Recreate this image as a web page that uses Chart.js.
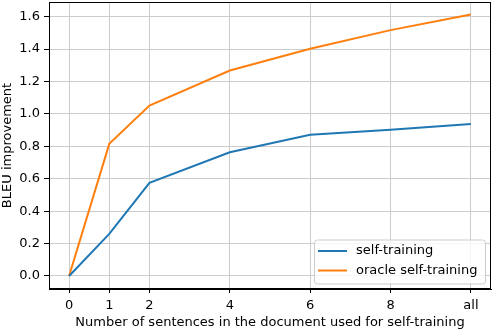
<!DOCTYPE html>
<html>
<head>
<meta charset="utf-8">
<script src="https://cdn.jsdelivr.net/npm/chart.js@4/dist/chart.umd.min.js"></script>
<style>
  html, body { margin: 0; padding: 0; background: #fff; }
  canvas { display: block; }
</style>
</head>
<body>
<canvas id="myChart" width="492" height="330"></canvas>
<script>
// x positions of the measurements ("all" is drawn at position 10)
var xPos = [0, 1, 2, 4, 6, 8, 10];
var xLabels = ['0', '1', '2', '4', '6', '8', 'all'];
var selfTraining = [0.0, 0.26, 0.574, 0.763, 0.871, 0.902, 0.938];
var oracleTraining = [0.0, 0.815, 1.052, 1.268, 1.402, 1.517, 1.613];
var yTicks = [0.0, 0.2, 0.4, 0.6, 0.8, 1.0, 1.2, 1.4, 1.6];

var fuente = 'DejaVu Sans';
var tam = 13;

function puntos(valores) {
    var res = [];
    for (var i = 0; i < xPos.length; i++) {
        res.push({ x: xPos[i], y: valores[i] });
    }
    return res;
}

// marco negro alrededor del area de dibujo
var marco = {
    id: 'marco',
    afterDatasetsDraw: function (chart) {
        var a = chart.chartArea, ctx = chart.ctx;
        ctx.save();
        ctx.strokeStyle = '#000';
        ctx.lineWidth = 1;
        ctx.strokeRect(a.left + 0.5, a.top + 0.5, a.right - a.left - 1, a.bottom - a.top - 1);
        ctx.restore();
    }
};

// leyenda dentro del grafico, abajo a la derecha
var leyenda = {
    id: 'leyenda',
    afterDraw: function (chart) {
        var ctx = chart.ctx, a = chart.chartArea;
        var w = 171, h = 44;
        var x = a.right - 6 - w, y = a.bottom - 5.5 - h;
        ctx.save();
        ctx.beginPath();
        ctx.roundRect(x + 0.5, y + 0.5, w, h, 3);
        ctx.fillStyle = 'rgba(255,255,255,0.8)';
        ctx.fill();
        ctx.strokeStyle = '#cccccc';
        ctx.lineWidth = 1;
        ctx.stroke();
        ctx.font = tam + 'px "' + fuente + '"';
        ctx.textBaseline = 'middle';
        chart.data.datasets.forEach(function (ds, i) {
            var ly = y + 11.5 + i * 19.5;
            ctx.strokeStyle = ds.borderColor;
            ctx.lineWidth = 2;
            ctx.beginPath();
            ctx.moveTo(x + 4, ly);
            ctx.lineTo(x + 33, ly);
            ctx.stroke();
            ctx.fillStyle = '#000';
            ctx.fillText(ds.label, x + 42, ly);
        });
        ctx.restore();
    }
};

var ctx = document.getElementById('myChart').getContext('2d');
var chart = new Chart(ctx, {
    type: 'line',
    data: {
        datasets: [{
            label: 'self-training',
            data: puntos(selfTraining),
            borderColor: '#1f77b4',
            borderWidth: 2,
            pointRadius: 0,
            tension: 0,
            fill: false
        }, {
            label: 'oracle self-training',
            data: puntos(oracleTraining),
            borderColor: '#ff7f0e',
            borderWidth: 2,
            pointRadius: 0,
            tension: 0,
            fill: false
        }]
    },
    options: {
        responsive: false,
        animation: false,
        devicePixelRatio: 1,
        layout: { padding: { top: 2, right: 1, left: 0, bottom: 0 } },
        plugins: {
            legend: { display: false },
            tooltip: { enabled: false }
        },
        scales: {
            x: {
                type: 'linear',
                min: -0.5,
                max: 10.5,
                afterBuildTicks: function (axis) {
                    axis.ticks = xPos.map(function (v) { return { value: v }; });
                },
                afterFit: function (scale) {
                    scale.height = 41;
                    scale.paddingLeft = 0;
                    scale.paddingRight = 0;
                },
                ticks: {
                    autoSkip: false,
                    maxRotation: 0,
                    padding: 5,
                    color: '#000',
                    font: { family: fuente, size: tam },
                    callback: function (v) {
                        var i = xPos.indexOf(v);
                        return i >= 0 ? xLabels[i] : '';
                    }
                },
                grid: { color: '#cccccc', lineWidth: 1, drawTicks: true, tickLength: 4, tickColor: '#000' },
                border: { display: true, color: '#000', width: 1 },
                title: {
                    display: true,
                    text: 'Number of sentences in the document used for self-training',
                    color: '#000',
                    font: { family: fuente, size: tam },
                    padding: { top: 0, bottom: 0 }
                }
            },
            y: {
                min: -0.0805,
                max: 1.6905,
                afterBuildTicks: function (axis) {
                    axis.ticks = yTicks.map(function (v) { return { value: v }; });
                },
                afterFit: function (scale) {
                    scale.width = 49;
                    scale.paddingTop = 0;
                    scale.paddingBottom = 0;
                },
                ticks: {
                    padding: 4,
                    color: '#000',
                    font: { family: fuente, size: tam },
                    callback: function (v) { return v.toFixed(1); }
                },
                grid: { color: '#cccccc', lineWidth: 1, drawTicks: true, tickLength: 5, tickColor: '#000' },
                border: { display: true, color: '#000', width: 1 },
                title: {
                    display: true,
                    text: 'BLEU improvement',
                    color: '#000',
                    font: { family: fuente, size: tam },
                    padding: { top: 0, bottom: 0 }
                }
            }
        }
    },
    plugins: [marco, leyenda]
});
</script>
</body>
</html>
